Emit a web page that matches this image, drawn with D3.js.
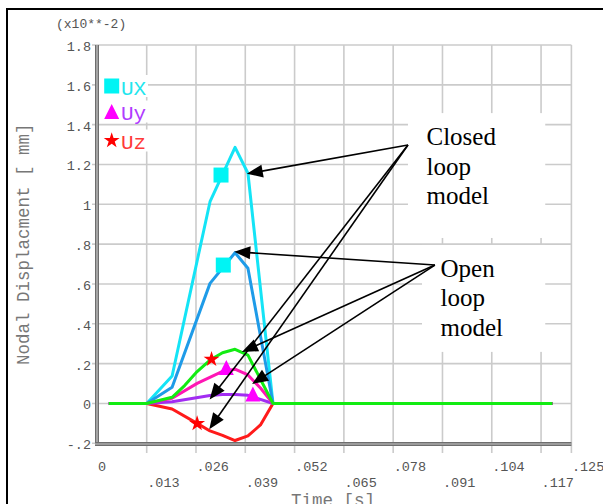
<!DOCTYPE html>
<html><head><meta charset="utf-8">
<script src="https://cdn.jsdelivr.net/npm/d3@7/dist/d3.min.js"></script>
<style>body{margin:0;background:#fff;overflow:hidden}</style>
</head><body><svg id="c" width="603" height="504"></svg>
<script>
// ---------- data ----------
const xTicks = [0, .013, .026, .039, .052, .065, .078, .091, .104, .117, .125];
const xTickLabels = ["0", ".013", ".026", ".039", ".052", ".065", ".078", ".091", ".104", ".117", ".125"];
const yTicks = [-0.2, 0, 0.2, 0.4, 0.6, 0.8, 1.0, 1.2, 1.4, 1.6, 1.8];
const yTickLabels = ["-.2", "0", ".2", ".4", ".6", ".8", "1", "1.2", "1.4", "1.6", "1.8"];

// time [s] and nodal displacement (x10^-2 mm)
const tUXclosed = [0.003, 0.013, 0.0197, 0.0297, 0.0363, 0.0397, 0.0463, 0.12];
const uxClosed  = [0, 0, 0.138, 1.013, 1.286, 1.156, 0, 0];
const tUXopen   = [0.003, 0.013, 0.0197, 0.0297, 0.0363, 0.0397, 0.0463, 0.12];
const uxOpen    = [0, 0, 0.081, 0.603, 0.757, 0.679, 0, 0];
const tRed      = [0.003, 0.013, 0.0197, 0.0263, 0.0297, 0.033, 0.0363, 0.0397, 0.043, 0.0463, 0.12];
const uRed      = [0, 0, -0.028, -0.100, -0.138, -0.160, -0.186, -0.163, -0.108, 0, 0];
const tPurple   = [0.003, 0.013, 0.0197, 0.0297, 0.033, 0.0363, 0.0397, 0.0463, 0.12];
const uPurple   = [0, 0, 0.009, 0.040, 0.045, 0.045, 0.041, 0, 0];
const tMagenta  = [0.003, 0.013, 0.0197, 0.0263, 0.033, 0.0363, 0.0397, 0.043, 0.0463, 0.12];
const uMagenta  = [0, 0, 0.026, 0.101, 0.161, 0.172, 0.143, 0.078, 0, 0];
const tGreen    = [0.003, 0.013, 0.0197, 0.023, 0.0263, 0.0297, 0.033, 0.0363, 0.0397, 0.0463, 0.12];
const uGreen    = [0, 0, 0.031, 0.090, 0.160, 0.218, 0.255, 0.272, 0.243, 0, 0];

// marker symbols on the curves
const squareT = [0.0326, 0.0332], squareV = [1.147, 0.695];
const triT    = [0.0340, 0.0410], triV    = [0.180, 0.047];
const starT   = [0.0301, 0.0263], starV   = [0.222, -0.101];

const legendLabels = ["UX", "Uy", "Uz"];
const annotationText = [["Closed", "loop", "model"], ["Open", "loop", "model"]];
// annotation anchors / targets in data units
const anchorT = [0.0819, 0.0890], anchorV = [1.298, 0.695];
const closedTipT = [0.0394, 0.0296, 0.0295], closedTipV = [1.153, 0.020, -0.129];
const openTipT   = [0.0361, 0.0381, 0.0408], openTipV   = [0.762, 0.259, 0.098];
const boxT0 = [0.0819, 0.0856], boxT1 = [0.1181, 0.1181];
const boxV0 = [1.458, 0.796], boxV1 = [0.831, 0.259];

// ---------- drawing ----------
const svg = d3.select("#c");
const x = d3.scaleLinear().domain([0, 0.125]).range([97.4, 571.4]);
const y = d3.scaleLinear().domain([-0.2, 1.8]).range([443.3, 45]);
const mono = "'Liberation Mono','Courier New',monospace";

// outer frame
svg.append("rect").attr("x", 7).attr("y", 9).attr("width", 620).attr("height", 520)
  .attr("fill", "none").attr("stroke", "#000").attr("stroke-width", 2);

// grid
const grid = svg.append("g").attr("stroke", "#cbcbcb").attr("stroke-width", 1.6);
xTicks.filter(d => d > 0).forEach(d => {
  grid.append("line").attr("x1", x(d)).attr("x2", x(d)).attr("y1", y(1.8)).attr("y2", 453);
});
yTicks.forEach(d => {
  grid.append("line").attr("x1", 92).attr("x2", x(0.125)).attr("y1", y(d)).attr("y2", y(d));
});

// annotation white boxes
for (let i = 0; i < 2; i++) {
  svg.append("rect").attr("x", x(boxT0[i])).attr("y", y(boxV0[i]))
    .attr("width", x(boxT1[i]) - x(boxT0[i])).attr("height", y(boxV1[i]) - y(boxV0[i]))
    .attr("fill", "#fff");
}

// axes (double gray lines)
function dbl(x1, y1, x2, y2) {
  svg.append("line").attr("x1", x1).attr("y1", y1).attr("x2", x2).attr("y2", y2)
    .attr("stroke", "#6e6e6e").attr("stroke-width", 4);
  svg.append("line").attr("x1", x1).attr("y1", y1).attr("x2", x2).attr("y2", y2)
    .attr("stroke", "#c8c8c8").attr("stroke-width", 1.2);
}
dbl(97, y(1.8), 97, 446);
dbl(95, 444, x(0.125), 444);

// tick labels
svg.append("g").selectAll("text").data(yTicks).join("text")
  .attr("x", 91).attr("y", d => y(d) + 6)
  .attr("text-anchor", "end").attr("font-family", mono).attr("font-size", 13.5)
  .attr("fill", "#555").text((d, i) => yTickLabels[i]);
svg.append("g").selectAll("text").data(xTicks).join("text")
  .attr("x", d => x(d) + 0.5).attr("y", (d, i) => i % 2 === 0 ? 471 : 487)
  .attr("font-family", mono).attr("font-size", 13.5)
  .attr("fill", "#555").text((d, i) => xTickLabels[i]);

svg.append("text").attr("x", 56).attr("y", 28).attr("font-family", mono)
  .attr("font-size", 13).attr("fill", "#555").text("(x10**-2)");
svg.append("text").attr("transform", "translate(28.5," + ((y(1.8) + y(-0.2)) / 2) + ") rotate(-90)")
  .attr("text-anchor", "middle").attr("font-family", mono).attr("font-size", 17.5)
  .attr("fill", "#777").text("Nodal Displacment [ mm]");
svg.append("text").attr("x", 333).attr("y", 506).attr("text-anchor", "middle")
  .attr("font-family", mono).attr("font-size", 17.5).attr("fill", "#777").text("Time [s]");

// curves
const line = d3.line().x(d => x(d[0])).y(d => y(d[1]));
const series = [
  [tUXclosed, uxClosed, "#14e4f6"],
  [tUXopen, uxOpen, "#1e9be8"],
  [tRed, uRed, "#ff1a1a"],
  [tPurple, uPurple, "#a22cf2"],
  [tMagenta, uMagenta, "#ff16b4"],
  [tGreen, uGreen, "#12ec12"]
];
series.forEach(([ts, vs, c]) => {
  svg.append("path").datum(ts.map((t, i) => [t, vs[i]])).attr("d", line)
    .attr("fill", "none").attr("stroke", c).attr("stroke-width", 3)
    .attr("stroke-linejoin", "round");
});

// markers
const triPath = "M0,-7.5L7.5,7.5L-7.5,7.5Z";
const starSym = d3.symbol().type(d3.symbolStar).size(78)();
function square(g, cx, cy) {
  g.append("rect").attr("x", cx - 7.5).attr("y", cy - 7.5).attr("width", 15).attr("height", 15).attr("fill", "#00f4f4");
}
function tri(g, cx, cy) {
  g.append("path").attr("d", triPath).attr("transform", `translate(${cx},${cy})`).attr("fill", "#ff00ff");
}
function star(g, cx, cy) {
  g.append("path").attr("d", starSym).attr("transform", `translate(${cx},${cy})`).attr("fill", "#ff0000");
}
const mk = svg.append("g");
squareT.forEach((t, i) => square(mk, x(t), y(squareV[i])));
triT.forEach((t, i) => tri(mk, x(t), y(triV[i])));
starT.forEach((t, i) => star(mk, x(t), y(starV[i])));

// arrows
function arrow(x0, y0, x1, y1) {
  const dx = x1 - x0, dy = y1 - y0, L = Math.hypot(dx, dy);
  const ux = dx / L, uy = dy / L, hl = 16, hw = 6.5;
  const bx = x1 - ux * hl, by = y1 - uy * hl;
  svg.append("line").attr("x1", x0).attr("y1", y0).attr("x2", bx + ux * 2).attr("y2", by + uy * 2)
    .attr("stroke", "#000").attr("stroke-width", 1.6);
  svg.append("path").attr("d", `M${x1},${y1}L${bx - uy * hw},${by + ux * hw}L${bx + uy * hw},${by - ux * hw}Z`)
    .attr("fill", "#000");
}
closedTipT.forEach((t, i) => arrow(x(anchorT[0]), y(anchorV[0]), x(t), y(closedTipV[i])));
openTipT.forEach((t, i) => arrow(x(anchorT[1]), y(anchorV[1]), x(t), y(openTipV[i])));

// annotation text
annotationText.forEach((lines, b) => {
  const tx = x(boxT0[b]) + 18.5, ty = y(boxV0[b]) + 32;
  lines.forEach((s, k) => {
    svg.append("text").attr("x", tx).attr("y", ty + k * 29.5)
      .attr("font-family", "'Liberation Serif','Times New Roman',serif")
      .attr("font-size", 25).attr("fill", "#000").text(s);
  });
});

// legend
const lg = svg.append("g");
const legY = [86, 111.5, 140.5];
const legColors = ["#22e6ee", "#b03cff", "#ff3a3a"];
legY.forEach((cy, i) => {
  lg.append("rect").attr("x", 99).attr("y", cy - 11).attr("width", 49).attr("height", 22).attr("fill", "#fff");
});
square(lg, 111.7, legY[0]);
tri(lg, 111.7, legY[1]);
star(lg, 111.7, legY[2]);
legY.forEach((cy, i) => {
  lg.append("text").attr("x", 121).attr("y", cy + 8.5).attr("font-family", mono)
    .attr("font-size", 21).attr("fill", legColors[i]).text(legendLabels[i]);
});
</script></body></html>
